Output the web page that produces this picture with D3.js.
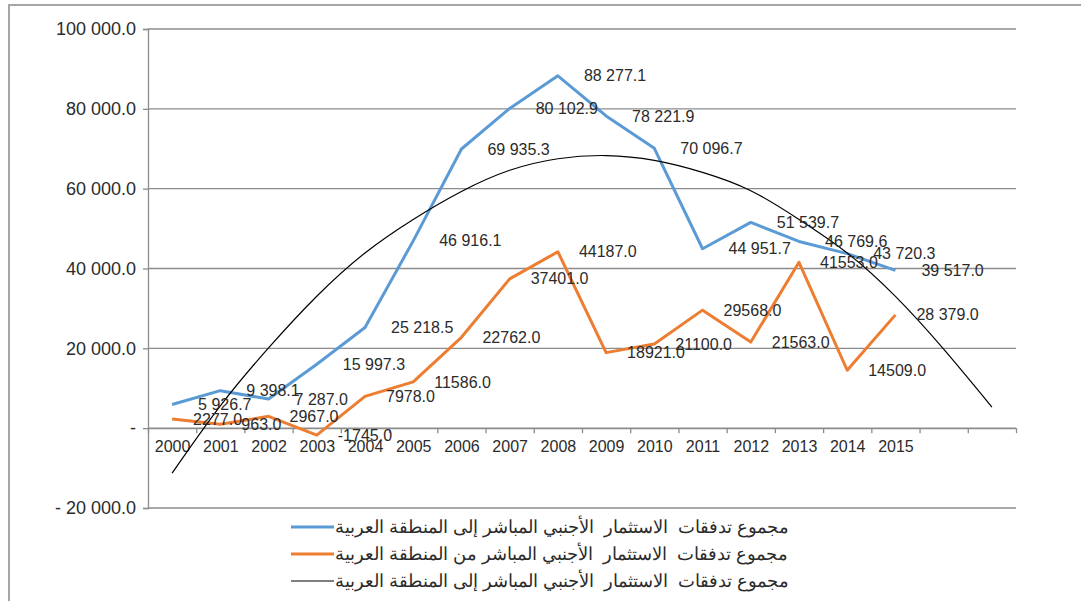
<!DOCTYPE html>
<html>
<head>
<meta charset="utf-8">
<script src="https://cdnjs.cloudflare.com/ajax/libs/d3/7.8.5/d3.min.js"></script>
<style>
  body { margin: 0; background: #fff; }
  text { font-family: "Liberation Sans", Arial, sans-serif; fill: #2b2b2b; }
</style>
</head>
<body>
<div id="chart"></div>
<script>
// data
var years = ["2000", "2001", "2002", "2003", "2004", "2005", "2006", "2007",
  "2008", "2009", "2010", "2011", "2012", "2013", "2014", "2015", "", ""];

var inflows = [5926.7, 9398.1, 7287.0, 15997.3, 25218.5, 46916.1, 69935.3, 80102.9,
  88277.1, 78221.9, 70096.7, 44951.7, 51539.7, 46769.6, 43720.3, 39517.0];

var outflows = [2277.0, 963.0, 2967.0, -1745.0, 7978.0, 11586.0, 22762.0, 37401.0,
  44187.0, 18921.0, 21100.0, 29568.0, 21563.0, 41553.0, 14509.0, 28379.0];

var outflowLabels = ["2277.0", "963.0", "2967.0", "-1745.0", "7978.0", "11586.0", "22762.0", "37401.0",
  "44187.0", "18921.0", "21100.0", "29568.0", "21563.0", "41553.0", "14509.0", "28 379.0"];

// trend line at each category (extends two periods forward)
var trend = [-11250, 5600, 20100, 33050, 43900, 52300, 59300, 64600, 67500,
  68300, 67100, 64100, 59500, 52300, 43900, 33000, 19800, 5300];

var yTicks = [-20000, 0, 20000, 40000, 60000, 80000, 100000];

var legendNames = [
  "مجموع تدفقات  الاستثمار  الأجنبي المباشر إلى المنطقة العربية",
  "مجموع تدفقات  الاستثمار  الأجنبي المباشر من المنطقة العربية",
  "مجموع تدفقات  الاستثمار  الأجنبي المباشر إلى المنطقة العربية"
];

var svgWidth = 1081;
var svgHeight = 601;

var svg = d3.select("#chart")
  .append("svg")
  .attr("width", svgWidth)
  .attr("height", svgHeight);

// outer frame (only left and top visible)
svg.append("path")
  .attr("d", "M9,601 V5 H1081")
  .attr("fill", "none")
  .attr("stroke", "#a6a6a6")
  .attr("stroke-width", 2);

var plotLeft = 148, plotRight = 1016;

var x = d3.scaleLinear().domain([0, years.length]).range([plotLeft, plotRight]);
var y = d3.scaleLinear().domain([-20000, 100000]).range([508, 29]);

var locale = d3.formatLocale({ decimal: ".", thousands: " ", grouping: [3], currency: ["", ""], minus: "-" });
var fmt = locale.format(",.1f");

function yFormat(v) {
  if (v === 0) return "-";
  if (v < 0) return "- " + fmt(-v);
  return fmt(v);
}

// gridlines
svg.append("g")
  .selectAll("line")
  .data(yTicks)
  .enter()
  .append("line")
  .attr("x1", plotLeft)
  .attr("x2", plotRight)
  .attr("y1", d => y(d))
  .attr("y2", d => y(d))
  .attr("stroke", "#8c8c8c")
  .attr("stroke-width", 1.3);

// y axis
var yAxis = svg.append("g")
  .attr("transform", `translate(${plotLeft}, 0)`)
  .call(d3.axisLeft(y).tickValues(yTicks).tickFormat(yFormat).tickSize(5).tickPadding(7));
yAxis.selectAll("text").attr("font-size", 18);
yAxis.selectAll("line, path").attr("stroke", "#8c8c8c").attr("stroke-width", 1.3);

// x axis: ticks at category boundaries
var xAxis = svg.append("g")
  .attr("transform", `translate(0, ${y(0)})`)
  .call(d3.axisBottom(x).tickValues(d3.range(years.length + 1)).tickFormat("").tickSize(5).tickSizeOuter(0));
xAxis.selectAll("line, path").attr("stroke", "#8c8c8c").attr("stroke-width", 1.3);

// x labels centred in each category
var xLabels = svg.append("g")
  .attr("transform", `translate(0, ${y(0)})`)
  .call(d3.axisBottom(x).tickValues(d3.range(years.length).map(i => i + 0.5))
    .tickFormat(d => years[Math.floor(d)]).tickSize(0).tickPadding(12));
xLabels.select(".domain").remove();
xLabels.selectAll("text").attr("font-size", 16);

var line = d3.line()
  .x((d, i) => x(i + 0.5))
  .y(d => y(d));

// series
svg.append("path")
  .datum(inflows)
  .attr("d", line)
  .attr("fill", "none")
  .attr("stroke", "#5b9bd5")
  .attr("stroke-width", 3)
  .attr("stroke-linejoin", "round");

svg.append("path")
  .datum(outflows)
  .attr("d", line)
  .attr("fill", "none")
  .attr("stroke", "#ed7d31")
  .attr("stroke-width", 3)
  .attr("stroke-linejoin", "round");

svg.append("path")
  .datum(trend)
  .attr("d", line.curve(d3.curveNatural))
  .attr("fill", "none")
  .attr("stroke", "#000")
  .attr("stroke-width", 1.2);

// data labels to the right of each point
svg.append("g")
  .selectAll("text")
  .data(inflows)
  .enter()
  .append("text")
  .attr("x", (d, i) => x(i + 0.5) + 26)
  .attr("y", d => y(d))
  .attr("dy", "0.35em")
  .attr("font-size", 16)
  .text(d => fmt(d));

svg.append("g")
  .selectAll("text")
  .data(outflows)
  .enter()
  .append("text")
  .attr("x", (d, i) => x(i + 0.5) + 21)
  .attr("y", d => y(d))
  .attr("dy", "0.35em")
  .attr("font-size", 16)
  .text((d, i) => outflowLabels[i]);

// legend
var legendColors = ["#5b9bd5", "#ed7d31", "#000"];
var legendWidths = [3, 3, 1.2];
var legend = svg.append("g");
legendNames.forEach(function(name, i) {
  var ly = 527 + i * 27;
  legend.append("line")
    .attr("x1", 291).attr("x2", 334)
    .attr("y1", ly).attr("y2", ly)
    .attr("stroke", legendColors[i])
    .attr("stroke-width", legendWidths[i]);
  legend.append("text")
    .attr("x", 335)
    .attr("y", ly)
    .attr("dy", "0.35em")
    .attr("font-size", 18)
    .style("white-space", "pre")
    .text(name);
});
</script>
</body>
</html>
